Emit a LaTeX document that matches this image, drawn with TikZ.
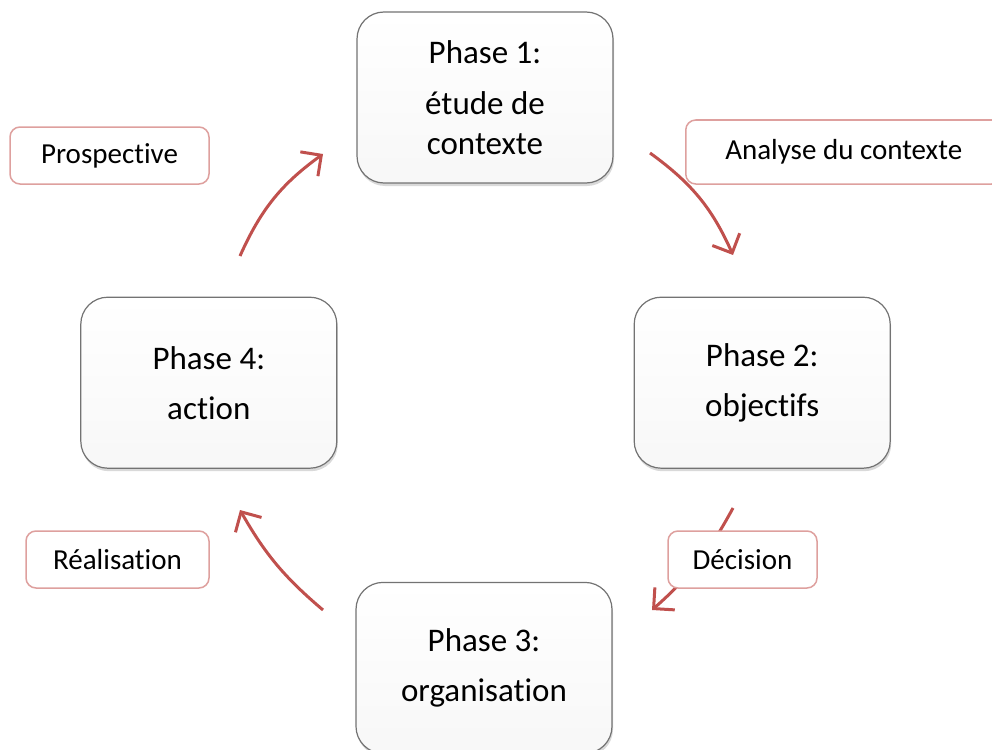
\documentclass[tikz,border=0pt]{standalone}
\usepackage{fontspec}
\setmainfont{Carlito}[RawFeature={-liga}, Contextuals={NoAlternate}]
\usetikzlibrary{arrows.meta,shadows,positioning}
\definecolor{arrowred}{RGB}{192,80,77}
\definecolor{tagpink}{RGB}{222,160,158}
\tikzset{
    phasebox/.style={draw=black!55, line width=1.2pt, rounded corners=27pt, minimum width=256pt, minimum height=171pt, align=center, top color=white, bottom color=black!3, drop shadow={shadow xshift=1pt, shadow yshift=-3pt, opacity=0.3}, font=\fontsize{33}{40}\selectfont},
    labelbox/.style={draw=tagpink, line width=1.5pt, rounded corners=10pt, minimum height=57pt, fill=white, font=\fontsize{29}{35}\selectfont},
    phasearrow/.style={-{Straight Barb[length=15pt, width=30pt]}, line width=3pt, arrowred}
}
\begin{document}
\begin{tikzpicture}[x=1pt, y=-1pt]
                    \clip (0,0) rectangle (992,749);
                    \node[phasebox] (P1) at (485,97.5) {Phase 1:\\[11pt]étude de\\contexte};
                    \node[phasebox, below right=113pt and 20pt of P1] (P2) {Phase 2:\\[10pt]objectifs};
                    \node[phasebox, below left=113pt and 19pt of P1] (P4) {Phase 4:\\[10pt]action};
                    \node[phasebox, below right=113pt and 18pt of P4] (P3) {Phase 3:\\[10pt]organisation};
                    \coordinate (a1) at (240,256);
                    \coordinate (b1) at (323,154);
                    \coordinate (a2) at (650,153);
                    \coordinate (b2) at (733,255);
                    \coordinate (a3) at (733,508);
                    \coordinate (b3) at (652,610);
                    \coordinate (a4) at (323,610);
                    \coordinate (b4) at (240,510);
                    \draw[phasearrow] (a1) to[bend left=15] (b1);
                    \draw[phasearrow] (a2) to[bend left=15] (b2);
                    \draw[phasearrow] (a3) to[bend left=10] (b3);
                    \draw[phasearrow] (a4) to[bend left=10] (b4);
                    \node[labelbox, minimum width=199pt] (L1) at (109.5,155.5) {Prospective};
                    \node[labelbox, minimum width=316pt, minimum height=64pt, anchor=west] (L2) at (685,152) {Analyse du contexte};
                    \node[labelbox, minimum width=149pt] (L3) at (742.5,559.5) {Décision};
                    \node[labelbox, minimum width=183pt] (L4) at (117.5,559.5) {Réalisation};
                \end{tikzpicture}
\end{document}
